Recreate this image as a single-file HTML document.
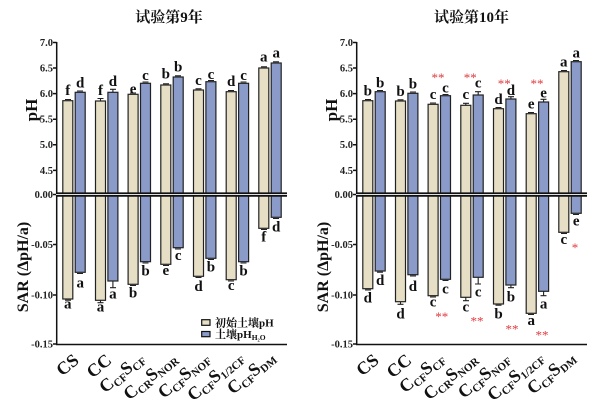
<!DOCTYPE html>
<html><head><meta charset="utf-8"><style>
html,body{margin:0;padding:0;background:#fff;}
svg{display:block;}
.t{font-family:"Liberation Serif","Noto Serif CJK SC",serif;font-weight:bold;}
.tk{font-family:"Liberation Serif",serif;font-weight:bold;font-size:10.5px;fill:#222;text-anchor:end;}
.lt{font-family:"Liberation Serif",serif;font-weight:bold;font-size:15px;fill:#111;text-anchor:middle;}
.st{font-family:"Liberation Serif",serif;font-size:13px;fill:#e0393e;text-anchor:middle;}
.xl{font-family:"Liberation Serif",serif;font-weight:bold;font-size:18px;fill:#111;text-anchor:end;}
.bb{fill:#e6dfc5;stroke:#222;stroke-width:1.2;}
.bl{fill:#8a9bca;stroke:#222;stroke-width:1.2;}
.ax{stroke:#111;stroke-width:1.5;fill:none;}
.er{stroke:#222;stroke-width:1.1;fill:none;}
</style></head><body>
<svg width="615" height="416" viewBox="0 0 615 416" xmlns="http://www.w3.org/2000/svg">
<rect width="615" height="416" fill="#fff"/>

<!-- ================= LEFT PANEL ================= -->
<g>
<text class="t" x="169" y="22" font-size="15" text-anchor="middle" fill="#111">试验第9年</text>
<!-- axis titles -->
<text class="t" font-size="17" text-anchor="middle" fill="#111" transform="translate(37,110) rotate(-90)">pH</text>
<text class="t" font-size="16" text-anchor="middle" fill="#111" transform="translate(28,267) rotate(-90)">SAR (ΔpH/a)</text>
<!-- tick labels -->
<text class="tk" x="53" y="46">7.0</text>
<text class="tk" x="53" y="71.5">6.5</text>
<text class="tk" x="53" y="97">6.0</text>
<text class="tk" x="53" y="122.5">5.5</text>
<text class="tk" x="53" y="148">5.0</text>
<text class="tk" x="53" y="174">4.5</text>
<text class="tk" x="53" y="198">0.00</text>
<text class="tk" x="53" y="248">-0.05</text>
<text class="tk" x="53" y="298.5">-0.10</text>
<text class="tk" x="53" y="347.5">-0.15</text>
<!-- bars beige -->
<rect class="bb" x="62.8" y="100.7" width="10" height="198.3"/>
<rect class="bb" x="95.5" y="101" width="10" height="199.3"/>
<rect class="bb" x="128.1" y="94.3" width="10" height="190"/>
<rect class="bb" x="160.8" y="85" width="10" height="179.3"/>
<rect class="bb" x="193.5" y="90" width="10" height="186.3"/>
<rect class="bb" x="226.2" y="91.7" width="10" height="188"/>
<rect class="bb" x="258.8" y="68" width="10" height="160.3"/>
<!-- bars blue -->
<rect class="bl" x="75.2" y="92.3" width="10" height="180"/>
<rect class="bl" x="107.9" y="92.3" width="10" height="188.7"/>
<rect class="bl" x="140.5" y="83.3" width="10" height="178.4"/>
<rect class="bl" x="173.2" y="77" width="10" height="170.7"/>
<rect class="bl" x="205.9" y="81.7" width="10" height="176.6"/>
<rect class="bl" x="238.6" y="83.3" width="10" height="178.4"/>
<rect class="bl" x="271.2" y="63" width="10" height="154.3"/>
<!-- error caps -->
<path class="er" d="M65 99.5h6M97.5 98.5h6M100.5 98.5v2.5M130 93h6M163 83.8h6M195.5 88.8h6M228 90.5h6M261 66.8h6
M77 91h6M110 89.3h6M112.9 89.3v3M142.5 82h6M175 75.8h6M208 80.5h6M240.5 82h6M273 61.8h6
M65 300.2h6M97.5 302.7h6M100.5 300.3v2.4M130 285.5h6M163 265.5h6M195.5 277.5h6M228 281h6M261 229.5h6
M77 273.5h6M110 287.7h6M112.9 281v6.7M142.5 263h6M175 249h6M208 259.5h6M240.5 263h6M273 218.5h6"/>
<!-- letters pH -->
<text class="lt" x="67.8" y="95">f</text>
<text class="lt" x="100.5" y="95">f</text>
<text class="lt" x="133.1" y="93.3">e</text>
<text class="lt" x="165.8" y="78.3">b</text>
<text class="lt" x="198.5" y="85">c</text>
<text class="lt" x="231.2" y="86">d</text>
<text class="lt" x="263.8" y="61.7">a</text>
<text class="lt" x="80.2" y="87.3">d</text>
<text class="lt" x="112.9" y="86">d</text>
<text class="lt" x="145.5" y="80">c</text>
<text class="lt" x="178.2" y="71.7">b</text>
<text class="lt" x="210.9" y="79">c</text>
<text class="lt" x="243.6" y="80">c</text>
<text class="lt" x="276.2" y="57.3">a</text>
<!-- letters SAR -->
<text class="lt" x="67.8" y="308.7">a</text>
<text class="lt" x="100.5" y="311.7">a</text>
<text class="lt" x="133.1" y="297.3">b</text>
<text class="lt" x="165.8" y="275">e</text>
<text class="lt" x="198.5" y="291">d</text>
<text class="lt" x="231.2" y="290">c</text>
<text class="lt" x="263.8" y="241.7">f</text>
<text class="lt" x="80.2" y="287.3">a</text>
<text class="lt" x="112.9" y="298.3">a</text>
<text class="lt" x="145.5" y="275.7">b</text>
<text class="lt" x="178.2" y="260">c</text>
<text class="lt" x="210.9" y="271.7">b</text>
<text class="lt" x="243.6" y="275.7">b</text>
<text class="lt" x="276.2" y="231.7">d</text>
<!-- axes -->
<path class="ax" d="M56.7 42V344.5H287"/>
<path class="ax" d="M53 42.5h3.7M53 68h3.7M53 93.6h3.7M53 119.2h3.7M53 144.8h3.7M53 170.4h3.7M53 194.5h3.7M53 244.5h3.7M53 295h3.7M53 344h3.7"/>
<line x1="56" y1="194.55" x2="287" y2="194.55" stroke="#111" stroke-width="4.3"/>
<line x1="56" y1="194.55" x2="287" y2="194.55" stroke="#fff" stroke-width="0.8"/>
<!-- legend -->
<rect x="201.7" y="319.7" width="8.3" height="5.6" fill="#e6dfc5" stroke="#111" stroke-width="1.2"/>
<rect x="201.7" y="331.5" width="8.3" height="5.2" fill="#8a9bca" stroke="#111" stroke-width="1.2"/>
<text class="t" x="215" y="326.5" font-size="11" fill="#111">初始土壤pH</text>
<text class="t" x="215" y="338" font-size="11" fill="#111">土壤pH<tspan font-size="7.5" dy="2">H₂O</tspan></text>
<!-- x labels -->
<text class="xl" transform="translate(80,362) rotate(-40)">CS</text>
<text class="xl" transform="translate(112.7,362) rotate(-40)">CC</text>
<text class="xl" transform="translate(145.3,360) rotate(-40)">C<tspan font-size="11" dy="3">CF</tspan><tspan dy="-3">S</tspan><tspan font-size="11" dy="3">CF</tspan></text>
<text class="xl" transform="translate(178,360) rotate(-40)">C<tspan font-size="11" dy="3">CR</tspan><tspan dy="-3">S</tspan><tspan font-size="11" dy="3">NOR</tspan></text>
<text class="xl" transform="translate(210.7,360) rotate(-40)">C<tspan font-size="11" dy="3">CF</tspan><tspan dy="-3">S</tspan><tspan font-size="11" dy="3">NOF</tspan></text>
<text class="xl" transform="translate(244.3,359) rotate(-40)">C<tspan font-size="11" dy="3">CF</tspan><tspan dy="-3">S</tspan><tspan font-size="11" dy="3">1/2CF</tspan></text>
<text class="xl" transform="translate(276,359) rotate(-40)">C<tspan font-size="11" dy="3">CF</tspan><tspan dy="-3">S</tspan><tspan font-size="11" dy="3">DM</tspan></text>
</g>

<!-- ================= RIGHT PANEL ================= -->
<g transform="translate(300,0)">
<text class="t" x="171.5" y="22" font-size="15" text-anchor="middle" fill="#111">试验第10年</text>
<text class="t" font-size="17" text-anchor="middle" fill="#111" transform="translate(37,110) rotate(-90)">pH</text>
<text class="t" font-size="16" text-anchor="middle" fill="#111" transform="translate(28,267) rotate(-90)">SAR (ΔpH/a)</text>
<text class="tk" x="53" y="46">7.0</text>
<text class="tk" x="53" y="71.5">6.5</text>
<text class="tk" x="53" y="97">6.0</text>
<text class="tk" x="53" y="122.5">5.5</text>
<text class="tk" x="53" y="148">5.0</text>
<text class="tk" x="53" y="174">4.5</text>
<text class="tk" x="53" y="198">0.00</text>
<text class="tk" x="53" y="248">-0.05</text>
<text class="tk" x="53" y="298.5">-0.10</text>
<text class="tk" x="53" y="347.5">-0.15</text>
<!-- bars beige -->
<rect class="bb" x="62.8" y="100.7" width="10" height="188"/>
<rect class="bb" x="95.5" y="101" width="10" height="200.7"/>
<rect class="bb" x="128.1" y="104.3" width="10" height="191.4"/>
<rect class="bb" x="160.8" y="105.3" width="10" height="192"/>
<rect class="bb" x="193.5" y="108.7" width="10" height="195.3"/>
<rect class="bb" x="226.2" y="113.7" width="10" height="199.6"/>
<rect class="bb" x="258.8" y="71.7" width="10" height="160.6"/>
<!-- bars blue -->
<rect class="bl" x="75.2" y="91.7" width="10" height="179.3"/>
<rect class="bl" x="107.9" y="93.3" width="10" height="181.4"/>
<rect class="bl" x="140.5" y="95.7" width="10" height="183.6"/>
<rect class="bl" x="173.2" y="95" width="10" height="182.3"/>
<rect class="bl" x="205.9" y="99" width="10" height="186"/>
<rect class="bl" x="238.6" y="102" width="10" height="189.3"/>
<rect class="bl" x="271.2" y="61.7" width="10" height="151.6"/>
<!-- error caps -->
<path class="er" d="M65 99.5h6M97.5 99.8h6M130 103h6M163 103.3h6M165.8 103.3v2M195.5 107.5h6M228 112.5h6M261 70.5h6
M77 90.5h6M110 92h6M142.5 94.5h6M175 91.7h6M178.2 91.7v3.3M208 96.7h6M210.9 96.7v2.3M240.5 99.3h6M243.6 99.3v2.7M273 60.5h6
M65 289.9h6M97.5 304.3h6M100.5 301.7v2.6M130 296.9h6M163 300.7h6M165.8 297.3v3.4M195.5 305.2h6M228 314.5h6M261 233.5h6
M77 272.2h6M110 275.9h6M142.5 280.5h6M175 284h6M178.2 277.3v6.7M208 287.7h6M210.9 285v2.7M240.5 295.7h6M243.6 291.3v4.4M273 214.5h6"/>
<!-- letters pH -->
<text class="lt" x="67.8" y="95.7">b</text>
<text class="lt" x="100.5" y="96">b</text>
<text class="lt" x="133.1" y="99">c</text>
<text class="lt" x="165.8" y="99">c</text>
<text class="lt" x="198.5" y="104">d</text>
<text class="lt" x="231.2" y="108.3">e</text>
<text class="lt" x="263.8" y="66.7">a</text>
<text class="lt" x="80.2" y="87.3">b</text>
<text class="lt" x="112.9" y="88.3">b</text>
<text class="lt" x="145.5" y="92.3">c</text>
<text class="lt" x="178.2" y="87.3">c</text>
<text class="lt" x="210.9" y="95">d</text>
<text class="lt" x="243.6" y="97.3">e</text>
<text class="lt" x="276.2" y="57.3">a</text>
<!-- letters SAR -->
<text class="lt" x="67.8" y="302.7">d</text>
<text class="lt" x="100.5" y="318.3">d</text>
<text class="lt" x="133.1" y="306.7">c</text>
<text class="lt" x="165.8" y="311.7">c</text>
<text class="lt" x="198.5" y="318.3">b</text>
<text class="lt" x="231.2" y="325">a</text>
<text class="lt" x="263.8" y="244">c</text>
<text class="lt" x="80.2" y="285">d</text>
<text class="lt" x="112.9" y="291">d</text>
<text class="lt" x="145.5" y="293.3">c</text>
<text class="lt" x="178.2" y="296.7">c</text>
<text class="lt" x="210.9" y="301.7">b</text>
<text class="lt" x="243.6" y="308.3">a</text>
<text class="lt" x="276.2" y="225.7">e</text>
<!-- stars -->
<text class="st" x="138" y="82">**</text>
<text class="st" x="170.3" y="82">**</text>
<text class="st" x="204.3" y="88">**</text>
<text class="st" x="237" y="88">**</text>
<text class="st" x="141.7" y="321">**</text>
<text class="st" x="177" y="325.5">**</text>
<text class="st" x="212" y="333.5">**</text>
<text class="st" x="242" y="339.5">**</text>
<text class="st" x="275" y="252">*</text>
<!-- axes -->
<path class="ax" d="M56.7 42V344.5H287"/>
<path class="ax" d="M53 42.5h3.7M53 68h3.7M53 93.6h3.7M53 119.2h3.7M53 144.8h3.7M53 170.4h3.7M53 194.5h3.7M53 244.5h3.7M53 295h3.7M53 344h3.7"/>
<line x1="56" y1="194.55" x2="287" y2="194.55" stroke="#111" stroke-width="4.3"/>
<line x1="56" y1="194.55" x2="287" y2="194.55" stroke="#fff" stroke-width="0.8"/>
<!-- x labels -->
<text class="xl" transform="translate(80,362) rotate(-40)">CS</text>
<text class="xl" transform="translate(112.7,362) rotate(-40)">CC</text>
<text class="xl" transform="translate(145.3,360) rotate(-40)">C<tspan font-size="11" dy="3">CF</tspan><tspan dy="-3">S</tspan><tspan font-size="11" dy="3">CF</tspan></text>
<text class="xl" transform="translate(178,360) rotate(-40)">C<tspan font-size="11" dy="3">CR</tspan><tspan dy="-3">S</tspan><tspan font-size="11" dy="3">NOR</tspan></text>
<text class="xl" transform="translate(210.7,360) rotate(-40)">C<tspan font-size="11" dy="3">CF</tspan><tspan dy="-3">S</tspan><tspan font-size="11" dy="3">NOF</tspan></text>
<text class="xl" transform="translate(244.3,359) rotate(-40)">C<tspan font-size="11" dy="3">CF</tspan><tspan dy="-3">S</tspan><tspan font-size="11" dy="3">1/2CF</tspan></text>
<text class="xl" transform="translate(276,359) rotate(-40)">C<tspan font-size="11" dy="3">CF</tspan><tspan dy="-3">S</tspan><tspan font-size="11" dy="3">DM</tspan></text>
</g>
</svg>
</body></html>
